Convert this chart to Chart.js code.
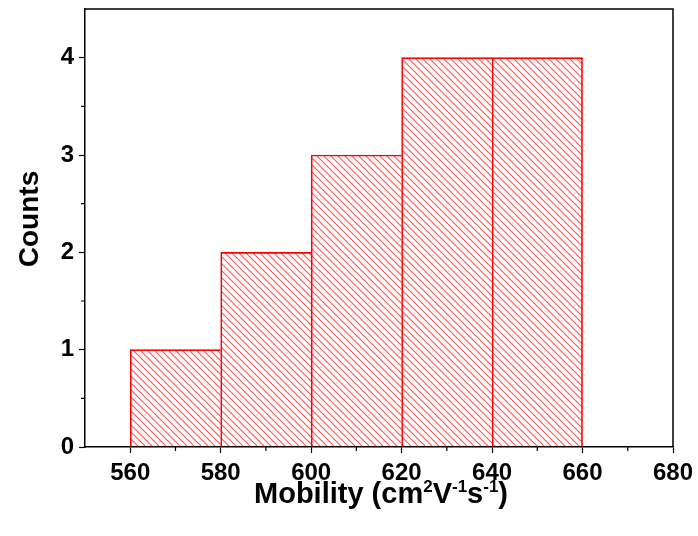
<!DOCTYPE html>
<html>
<head>
<meta charset="utf-8">
<script src="https://cdn.jsdelivr.net/npm/chart.js@4"></script>
<style>
  html, body { margin: 0; padding: 0; background: #fff; }
  #wrap { width: 698px; height: 536px; }
</style>
</head>
<body>
<div id="wrap"><canvas id="hist" width="698" height="536"></canvas></div>
<script>
// histogram data
const binEdges = [560, 580, 600, 620, 640, 660];
const counts = [1, 2, 3, 4, 4];
const xTicks = [560, 580, 600, 620, 640, 660, 680];
const yTicks = [0, 1, 2, 3, 4];

const FONT = '"Liberation Sans", Arial, sans-serif';

// diagonal hatch fill
function hatch() {
    const s = 7;
    const c = document.createElement('canvas');
    c.width = s; c.height = s;
    const g = c.getContext('2d');
    g.strokeStyle = 'rgba(255,0,0,0.65)';
    g.lineWidth = 1.2;
    g.beginPath();
    g.moveTo(-1, -1); g.lineTo(s + 1, s + 1);
    g.moveTo(-1, s - 1); g.lineTo(1, s + 1);
    g.moveTo(s - 1, -1); g.lineTo(s + 1, 1);
    g.stroke();
    return g.createPattern(c, 'repeat');
}

const ctx = document.getElementById('hist').getContext('2d');

const bars = counts.map((n, i) => ({ x: (binEdges[i] + binEdges[i + 1]) / 2, y: n }));

const extras = {
    id: 'extras',
    afterDraw(chart) {
        const c = chart.ctx;
        const a = chart.chartArea;
        const xs = chart.scales.x, ys = chart.scales.y;
        c.save();
        // frame top/right
        c.strokeStyle = '#000';
        c.lineWidth = 1.5;
        c.beginPath();
        c.moveTo(a.left, a.top); c.lineTo(a.right, a.top); c.lineTo(a.right, a.bottom);
        c.stroke();
        // minor ticks
        c.lineWidth = 1.2;
        c.beginPath();
        for (let v = 570; v < 680; v += 20) {
            const px = xs.getPixelForValue(v);
            c.moveTo(px, a.bottom); c.lineTo(px, a.bottom + 4);
        }
        for (let v = 0.5; v < 4.5; v += 1) {
            const py = ys.getPixelForValue(v);
            c.moveTo(a.left, py); c.lineTo(a.left - 4, py);
        }
        c.stroke();

        // axis titles
        c.fillStyle = '#000';
        c.textBaseline = 'alphabetic';
        c.save();
        c.translate(38, 219);
        c.rotate(-Math.PI / 2);
        c.textAlign = 'center';
        c.font = 'bold 28px ' + FONT;
        c.fillText('Counts', 0, 0);
        c.restore();

        const parts = [
            ['Mobility (cm', false], ['2', true], ['V', false], ['-1', true],
            ['s', false], ['-1', true], [')', false]
        ];
        const big = 'bold 29px ' + FONT, small = 'bold 17px ' + FONT;
        let w = 0;
        parts.forEach(p => { c.font = p[1] ? small : big; w += c.measureText(p[0]).width; });
        let x = (a.left + a.right) / 2 - w / 2 + 2;
        const base = 503;
        c.textAlign = 'left';
        parts.forEach(p => {
            c.font = p[1] ? small : big;
            c.fillText(p[0], x, p[1] ? base - 11 : base);
            x += c.measureText(p[0]).width;
        });
        c.restore();
    }
};

new Chart(ctx, {
    type: 'bar',
    data: {
        datasets: [{
            data: bars,
            backgroundColor: hatch(),
            borderColor: '#ff0000',
            // single 1px edge between neighbouring bins
            borderWidth: c => ({ top: 1, left: 1, bottom: 0, right: c.dataIndex === counts.length - 1 ? 1 : 0 }),
            borderSkipped: false,
            barPercentage: 1,
            categoryPercentage: 1
        }]
    },
    options: {
        responsive: false,
        animation: false,
        layout: { padding: { left: 0, top: 9, right: 25, bottom: 0 } },
        plugins: {
            legend: { display: false },
            tooltip: { enabled: false }
        },
        scales: {
            x: {
                type: 'linear',
                min: 550,
                max: 680,
                offset: false,
                afterBuildTicks: s => { s.ticks = xTicks.map(v => ({ value: v })); },
                afterFit: s => { s.height = 89; s.paddingLeft = 0; s.paddingRight = 0; },
                border: { color: '#000', width: 1.5 },
                grid: { drawOnChartArea: false, offset: false, tickLength: 6, tickColor: '#000', tickWidth: 1.2 },
                ticks: {
                    color: '#000',
                    padding: 6,
                    maxRotation: 0,
                    font: { family: FONT, size: 24, weight: 'bold' }
                }
            },
            y: {
                min: 0,
                max: 4.5,
                afterBuildTicks: s => { s.ticks = yTicks.map(v => ({ value: v })); },
                afterFit: s => { s.width = 85; s.paddingTop = 0; s.paddingBottom = 0; },
                border: { color: '#000', width: 1.5 },
                grid: { drawOnChartArea: false, tickLength: 6, tickColor: '#000', tickWidth: 1.2 },
                ticks: {
                    color: '#000',
                    padding: 5,
                    font: { family: FONT, size: 24, weight: 'bold' }
                }
            }
        }
    },
    plugins: [extras]
});
</script>
</body>
</html>
